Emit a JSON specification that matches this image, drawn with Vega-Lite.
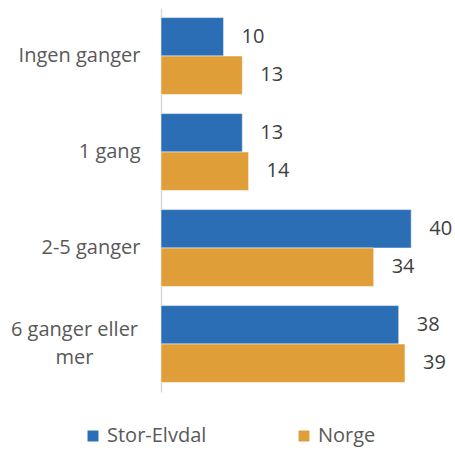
{
  "$schema": "https://vega.github.io/schema/vega-lite/v6.json",
  "autosize": {"type": "none"},
  "width": 294,
  "height": 384,
  "padding": {"left": 161, "top": 8, "right": 0, "bottom": 59},
  "background": "white",
  "config": {
    "view": {"stroke": null},
    "font": "Open Sans",
    "text": {"font": "Open Sans"}
  },
  "data": {
    "values": [
      {"kategori": "Ingen ganger", "serie": "Stor-Elvdal", "verdi": 10},
      {"kategori": "Ingen ganger", "serie": "Norge", "verdi": 13},
      {"kategori": "1 gang", "serie": "Stor-Elvdal", "verdi": 13},
      {"kategori": "1 gang", "serie": "Norge", "verdi": 14},
      {"kategori": "2-5 ganger", "serie": "Stor-Elvdal", "verdi": 40},
      {"kategori": "2-5 ganger", "serie": "Norge", "verdi": 34},
      {"kategori": "6 ganger eller mer", "serie": "Stor-Elvdal", "verdi": 38},
      {"kategori": "6 ganger eller mer", "serie": "Norge", "verdi": 39}
    ]
  },
  "encoding": {
    "y": {
      "field": "kategori",
      "type": "nominal",
      "sort": ["Ingen ganger", "1 gang", "2-5 ganger", "6 ganger eller mer"],
      "scale": {"paddingInner": 0.2, "paddingOuter": 0.1},
      "axis": {
        "title": null,
        "ticks": false,
        "domainColor": "#d9d9d9",
        "domainWidth": 1.5,
        "labelFont": "Open Sans",
        "labelFontSize": 20,
        "labelColor": "#595959",
        "labelAlign": {"condition": {"test": "datum.value == '6 ganger eller mer'", "value": "center"}, "value": "right"},
        "labelPadding": {"condition": {"test": "datum.value == '6 ganger eller mer'", "value": 87}, "value": 21},
        "labelOffset": {"condition": {"test": "datum.value == '6 ganger eller mer'", "value": -14}, "value": 0},
        "labelLineHeight": 28,
        "labelExpr": "datum.value == '6 ganger eller mer' ? ['6 ganger eller', 'mer'] : datum.value"
      }
    },
    "yOffset": {
      "field": "serie",
      "type": "nominal",
      "sort": ["Stor-Elvdal", "Norge"],
      "scale": {"paddingInner": 0, "paddingOuter": 0}
    },
    "x": {
      "field": "verdi",
      "type": "quantitative",
      "scale": {"domain": [0, 47]},
      "axis": null
    }
  },
  "layer": [
    {
      "mark": {"type": "bar", "stroke": "white", "strokeWidth": 0.5},
      "encoding": {
        "color": {
          "field": "serie",
          "type": "nominal",
          "sort": ["Stor-Elvdal", "Norge"],
          "scale": {"domain": ["Stor-Elvdal", "Norge"], "range": ["#2c6eb5", "#df9e37"]},
          "legend": {
            "title": null,
            "orient": "none",
            "direction": "horizontal",
            "legendX": -78,
            "legendY": 418,
            "padding": 0,
            "symbolType": "square",
            "symbolSize": 120,
            "symbolStrokeWidth": 0,
            "labelFont": "Open Sans",
            "labelFontSize": 20,
            "labelColor": "#595959",
            "labelOffset": 4,
            "columnPadding": 87
          }
        }
      }
    },
    {
      "mark": {"type": "text", "align": "left", "dx": 18, "fontSize": 20, "color": "#404040", "baseline": "middle"},
      "encoding": {"text": {"field": "verdi", "type": "quantitative"}}
    }
  ]
}
